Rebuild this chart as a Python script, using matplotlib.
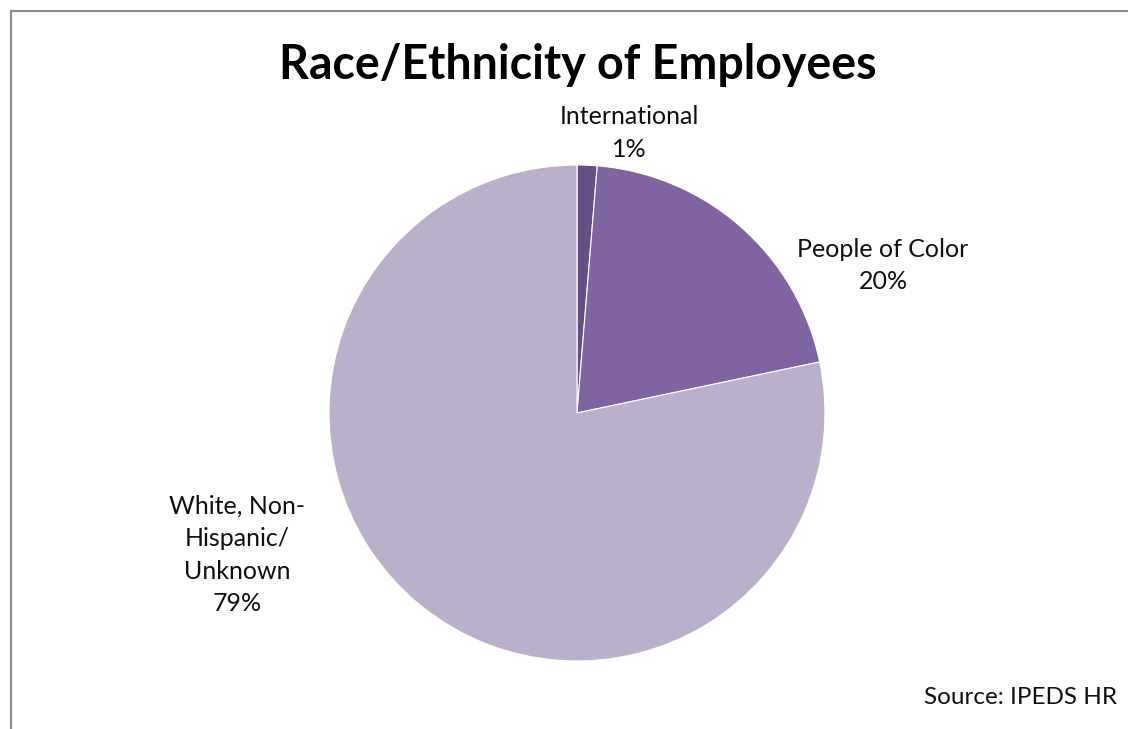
import matplotlib.pyplot as plt
from matplotlib.lines import Line2D

categories = ['International', 'People of Color', 'White, Non-\nHispanic/\nUnknown']
shares = [1.3, 20.4, 78.3]
pct_labels = ['1%', '20%', '79%']
colors = ['#674F86', '#8064A2', '#BAB0CA']

W, H = 1128, 729
fig = plt.figure(figsize=(W / 100, H / 100), dpi=100)
plt.rcParams['font.family'] = ['Lato', 'DejaVu Sans']

# pie centre (577, 413) px, radius 248 px
cx, cy, r = 577, 413, 248
ax = fig.add_axes([(cx - r) / W, (H - cy - r) / H, 2 * r / W, 2 * r / H])
ax.pie(shares, colors=colors, startangle=90, counterclock=False, radius=1,
       wedgeprops=dict(edgecolor='white', linewidth=0.8))
ax.set_xlim(-1, 1)
ax.set_ylim(-1, 1)
ax.set_aspect('equal')
ax.axis('off')

# label positions in data units (radius = 1)
label_pos = [(0.21, 1.13), (1.234, 0.595), (-1.371, -0.573)]
for name, pct, (x, y) in zip(categories, pct_labels, label_pos):
    ax.text(x, y, name + '\n' + pct, ha='center', va='center', fontsize=18,
            linespacing=1.5, color='#111111', clip_on=False)

fig.text(578 / W, 1 - 65 / H, 'Race/Ethnicity of Employees', ha='center', va='center',
         fontsize=33.5, fontweight='bold', color='black')
fig.text(1117 / W, 1 - 697 / H, 'Source: IPEDS HR', ha='right', va='center',
         fontsize=17.5, color='#111111')

# chart border (left and top visible)
fig.add_artist(Line2D([10.5 / W, 10.5 / W], [0, 1 - 10.5 / H], transform=fig.transFigure,
                      color='#8c8c8c', linewidth=1.5))
fig.add_artist(Line2D([10.5 / W, 1], [1 - 10.5 / H, 1 - 10.5 / H], transform=fig.transFigure,
                      color='#8c8c8c', linewidth=1.5))

fig.savefig('out.png', dpi=100)
